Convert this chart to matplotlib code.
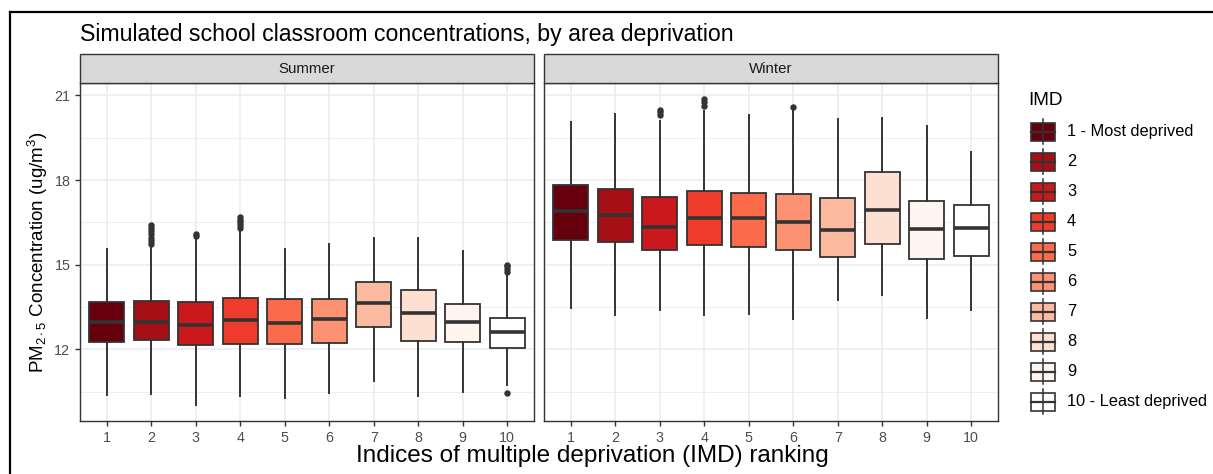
#Simulated PM2.5 classroom concentrations by IMD rank, summer vs winter

import matplotlib
matplotlib.use("Agg")
import matplotlib.pyplot as plt
from matplotlib.patches import Rectangle

plt.rcParams['font.family'] = ['Liberation Sans', 'DejaVu Sans']
plt.rcParams['mathtext.fontset'] = 'custom'
plt.rcParams['mathtext.rm'] = 'Liberation Sans'
plt.rcParams['mathtext.it'] = 'Liberation Sans:italic'

imd = [1, 2, 3, 4, 5, 6, 7, 8, 9, 10]
legend_labels = ["1 - Most deprived", "2", "3", "4", "5", "6", "7", "8", "9",
                 "10 - Least deprived"]
fills = ["#67000D", "#A50F15", "#CB181D", "#EF3B2C", "#FB6A4A",
         "#FC9272", "#FCBBA1", "#FEE0D2", "#FFF5F0", "#FFFFFF"]

# summer box stats
summer_lo = [10.39, 10.40, 10.01, 10.33, 10.27, 10.45, 10.88, 10.33, 10.48, 10.72]
summer_q1 = [12.25, 12.32, 12.15, 12.18, 12.20, 12.23, 12.80, 12.29, 12.26, 12.06]
summer_med = [12.96, 12.96, 12.88, 13.03, 12.93, 13.07, 13.66, 13.28, 12.98, 12.61]
summer_q3 = [13.68, 13.70, 13.68, 13.83, 13.80, 13.80, 14.40, 14.10, 13.61, 13.12]
summer_hi = [15.56, 15.70, 15.95, 16.25, 15.56, 15.74, 15.94, 15.94, 15.48, 14.65]
summer_out = [[], [15.75, 15.85, 15.95, 16.1, 16.2, 16.3, 16.4], [16.0, 16.1],
              [16.3, 16.4, 16.5, 16.6, 16.7], [], [], [], [], [],
              [10.45, 14.75, 14.85, 14.95, 15.0]]

# winter box stats
winter_lo = [13.45, 13.20, 13.39, 13.20, 13.26, 13.07, 13.76, 13.91, 13.12, 13.39]
winter_q1 = [15.88, 15.80, 15.52, 15.71, 15.64, 15.52, 15.28, 15.73, 15.21, 15.30]
winter_med = [16.89, 16.76, 16.34, 16.66, 16.66, 16.53, 16.22, 16.94, 16.26, 16.29]
winter_q3 = [17.83, 17.70, 17.40, 17.62, 17.55, 17.51, 17.35, 18.29, 17.27, 17.12]
winter_hi = [20.05, 20.35, 20.10, 20.44, 20.29, 20.45, 20.18, 20.19, 19.92, 19.00]
winter_out = [[], [], [20.30, 20.40, 20.50], [20.62, 20.75, 20.88], [],
              [20.60], [], [], [], []]

W, H = 1213, 474
fig = plt.figure(figsize=(W / 100, H / 100), dpi=100)

def px_axes(x0, y0, x1, y1):
    return fig.add_axes([x0 / W, 1 - y1 / H, (x1 - x0) / W, (y1 - y0) / H])

dark = "#333333"

def draw_panel(ax, lo, q1, med, q3, hi, out, show_y):
    stats = []
    for i in range(len(imd)):
        stats.append(dict(whislo=lo[i], q1=q1[i], med=med[i], q3=q3[i],
                          whishi=hi[i], fliers=out[i]))
    ax.set_axisbelow(True)
    bp = ax.bxp(stats, positions=imd, widths=0.78, patch_artist=True,
                showcaps=False,
                boxprops=dict(edgecolor=dark, linewidth=1.3),
                medianprops=dict(color=dark, linewidth=2.6),
                whiskerprops=dict(color=dark, linewidth=1.4),
                flierprops=dict(marker='o', markersize=3.6, markerfacecolor=dark,
                                markeredgecolor=dark))
    for patch, c in zip(bp['boxes'], fills):
        patch.set_facecolor(c)
    ax.set_xlim(0.4, 10.6)
    ax.set_ylim(9.46, 21.44)
    ax.set_xticks(imd)
    ax.set_yticks([12, 15, 18, 21])
    ax.set_yticks([10.5, 13.5, 16.5, 19.5], minor=True)
    ax.grid(True, which='major', color="#EBEBEB", linewidth=1.1)
    ax.grid(True, which='minor', axis='y', color="#EBEBEB", linewidth=0.55)
    ax.tick_params(axis='both', which='major', labelsize=10.3, colors=dark,
                   labelcolor="#4D4D4D", length=3.5, width=1, direction='out')
    ax.tick_params(axis='both', which='minor', length=0)
    if not show_y:
        ax.tick_params(axis='y', which='major', length=0, labelleft=False)
    for s in ax.spines.values():
        s.set_color(dark)
        s.set_linewidth(1)

ax1 = px_axes(80, 83, 534, 421)
draw_panel(ax1, summer_lo, summer_q1, summer_med, summer_q3, summer_hi,
           summer_out, True)
ax1.set_ylabel(r'PM$_{2\cdot5}$ Concentration (ug/m$^3$)', fontsize=13.5,
               labelpad=3)

ax2 = px_axes(544, 83, 998, 421)
draw_panel(ax2, winter_lo, winter_q1, winter_med, winter_q3, winter_hi,
           winter_out, False)

# overlay in pixel coordinates for strips, title, legend and frame
ov = fig.add_axes([0, 0, 1, 1], zorder=5)
ov.set_xlim(0, W)
ov.set_ylim(H, 0)
ov.axis('off')
ov.patch.set_visible(False)

for x0, x1, name in [(80, 534, "Summer"), (544, 998, "Winter")]:
    ov.add_patch(Rectangle((x0, 54), x1 - x0, 29, facecolor="#D9D9D9",
                           edgecolor=dark, linewidth=1))
    ov.text((x0 + x1) / 2, 68.5, name, ha='center', va='center', fontsize=10.8,
            color="#1A1A1A")

ov.text(80, 41, "Simulated school classroom concentrations, by area deprivation",
        fontsize=16.7, ha='left', va='baseline')
ov.text(592, 462, "Indices of multiple deprivation (IMD) ranking", fontsize=17.5,
        ha='center', va='baseline')

# legend
ov.text(1028, 105, "IMD", fontsize=13.7, ha='left', va='baseline')
for i, lab in enumerate(legend_labels):
    cy = 131.7 + i * 30
    ov.plot([1043, 1043], [cy - 12.5, cy + 12.5], color=dark, linewidth=1.1)
    ov.add_patch(Rectangle((1031, cy - 9), 24, 18, facecolor=fills[i],
                           edgecolor=dark, linewidth=1.2))
    ov.plot([1031, 1055], [cy, cy], color=dark, linewidth=1.6)
    ov.text(1067, cy, lab, fontsize=11.8, ha='left', va='center')

# outer frame (top and left edges)
ov.plot([10, W], [11.5, 11.5], color='black', linewidth=1.6)
ov.plot([10, 10], [11.5, H], color='black', linewidth=1.6)

fig.savefig("out.png", dpi=100)
